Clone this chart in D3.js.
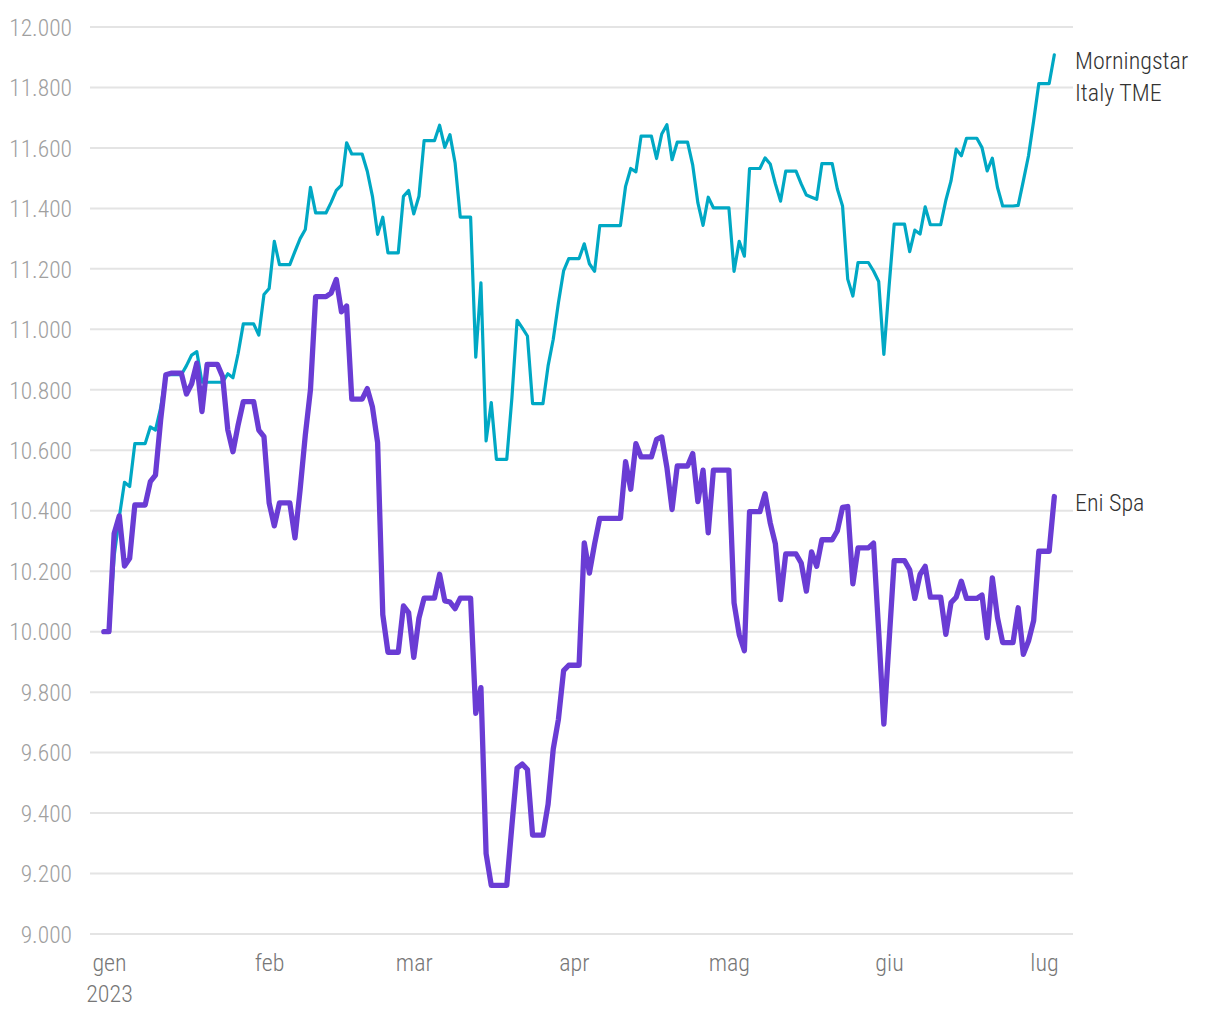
<!DOCTYPE html>
<html>
<head>
<meta charset="utf-8">
<script src="https://cdn.jsdelivr.net/npm/d3@7"></script>
<style>
  html, body { margin: 0; padding: 0; background: #fff; }
  svg text { font-family: "Liberation Sans Narrow", "Roboto Condensed", "DejaVu Sans Condensed", sans-serif; }
</style>
</head>
<body>
<svg id="chart" width="1220" height="1020"></svg>
<script>
// ---------- DATA ----------
const startDate = "2022-12-31";        // series start (base value)
const endDate = "2023-07-03";
const baseValue = 10000;

// One value per weekday (Mon–Fri) from 2023-01-02 to 2023-07-03.
// Market holidays repeat the previous close; weekends carry the last close.
const morningstarItalyTME = [
  10250, 10380, 10494, 10480, 10622,
  10677, 10667, 10740, 10850, 10850,
  10880, 10915, 10926, 10825, 10825,
  10825, 10853, 10840, 10920, 11018,
  10981, 11115, 11135, 11291, 11214,
  11258, 11300, 11330, 11470, 11385,
  11420, 11460, 11477, 11617, 11580,
  11523, 11440, 11314, 11371, 11253,
  11440, 11459, 11382, 11440, 11624,
  11675, 11602, 11644, 11550, 11371,
  10908, 11154, 10631, 10758, 10570,
  10774, 11030, 11005, 10978, 10754,
  10879, 10967, 11088, 11193, 11234,
  11283, 11217, 11192, 11343, 11343,
  11343, 11473, 11532, 11521, 11639,
  11565, 11646, 11677, 11561, 11619,
  11543, 11418, 11344, 11437, 11402,
  11402, 11192, 11291, 11242, 11532,
  11567, 11547, 11481, 11424, 11523,
  11481, 11444, 11437, 11430, 11548,
  11464, 11408, 11166, 11110, 11221,
  11193, 11158, 10917, 11140, 11348,
  11257, 11328, 11315, 11405, 11346,
  11427, 11491, 11596, 11574, 11632,
  11601, 11524, 11566, 11469, 11408,
  11410, 11491, 11574, 11690, 11813,
  11908
];

const eniSpa = [
  10325, 10383, 10217, 10243, 10419,
  10496, 10518, 10700, 10850, 10855,
  10786, 10820, 10888, 10728, 10884,
  10843, 10667, 10595, 10684, 10761,
  10667, 10645, 10426, 10350, 10426,
  10310, 10470, 10650, 10800, 11108,
  11120, 11165, 11058, 11077, 10769,
  10804, 10743, 10625, 10056, 9932,
  10085, 10063, 9915, 10045, 10111,
  10190, 10102, 10098, 10076, 10111,
  9730, 9815, 9266, 9161, 9161,
  9360, 9549, 9562, 9544, 9327,
  9429, 9612, 9710, 9871, 9889,
  10294, 10194, 10290, 10375, 10375,
  10375, 10562, 10471, 10622, 10578,
  10636, 10644, 10543, 10404, 10548,
  10589, 10430, 10534, 10327, 10534,
  10534, 10095, 9990, 9937, 10397,
  10456, 10360, 10290, 10106, 10257,
  10227, 10134, 10264, 10216, 10304,
  10334, 10411, 10414, 10158, 10277,
  10293, 10000, 9694, 9965, 10235,
  10205, 10110, 10189, 10216, 10114,
  9991, 10096, 10114, 10167, 10110,
  10121, 9980, 10178, 10046, 9964,
  10079, 9925, 9969, 10037, 10266,
  10447
];

const seriesNames = ["Morningstar\nItaly TME", "Eni Spa"];
const monthTickDates = ["2023-01-01","2023-02-01","2023-03-01","2023-04-01","2023-05-01","2023-06-01","2023-07-01"];
const monthTickLabels = ["gen", "feb", "mar", "apr", "mag", "giu", "lug"];
const yearLabel = "2023";
const yTicks = [9000, 9200, 9400, 9600, 9800, 10000, 10200, 10400, 10600, 10800, 11000, 11200, 11400, 11600, 11800, 12000];

// ---------- BUILD DAILY SERIES ----------
const parse = d3.utcParse("%Y-%m-%d");
const days = d3.utcDay.range(parse(startDate), d3.utcDay.offset(parse(endDate), 1));
const weekdays = days.filter(d => d.getUTCDay() !== 0 && d.getUTCDay() !== 6 && d >= parse("2023-01-02"));

function toDaily(values) {
  const byDay = new Map(weekdays.map((d, i) => [+d, values[i]]));
  let last = baseValue;
  return days.map(d => {
    if (byDay.has(+d)) last = byDay.get(+d);
    return { date: d, value: last };
  });
}
const dataTME = toDaily(morningstarItalyTME);
const dataEni = toDaily(eniSpa);

// ---------- CHART ----------
const svg = d3.select("#chart");
const gridX0 = 90, gridX1 = 1073;

const x = d3.scaleUtc()
  .domain([parse("2023-01-01"), parse("2023-07-01")])
  .range([109, 1044]);
const y = d3.scaleLinear().domain([9000, 12000]).range([934, 27]);

const locale = d3.formatLocale({ decimal: ",", thousands: ".", grouping: [3], currency: ["€", ""] });
const fmt = locale.format(",d");

// gridlines
svg.append("g").selectAll("line").data(yTicks).join("line")
  .attr("x1", gridX0).attr("x2", gridX1)
  .attr("y1", d => y(d)).attr("y2", d => y(d))
  .attr("stroke", "#e4e4e4").attr("stroke-width", 2);

// y labels
const yAxis = d3.axisLeft(y).tickValues(yTicks).tickFormat(fmt).tickSize(0).tickPadding(0);
const gy = svg.append("g").attr("transform", `translate(72,0)`).call(yAxis);
gy.select(".domain").remove();
gy.selectAll("text")
  .attr("fill", "#a0a0a0")
  .attr("font-size", 23.5)
  .attr("font-weight", 300)
  .attr("dy", "0.35em")
  .attr("x", 0);

// x axis labels
const xAxis = d3.axisBottom(x)
  .tickValues(monthTickDates.map(parse))
  .tickFormat((d, i) => monthTickLabels[i])
  .tickSize(0).tickPadding(0);
const gx = svg.append("g").attr("transform", `translate(0,934)`).call(xAxis);
gx.select(".domain").remove();
gx.selectAll("text")
  .attr("fill", "#777777")
  .attr("font-size", 24)
  .attr("font-weight", 300)
  .attr("dy", null)
  .attr("y", 37);
gx.select(".tick text").clone()
  .text(yearLabel)
  .attr("y", 68);

// lines
const line = d3.line().x(d => x(d.date)).y(d => y(d.value)).curve(d3.curveLinear);

svg.append("path").datum(dataTME)
  .attr("d", line)
  .attr("fill", "none")
  .attr("stroke", "#00a8c4")
  .attr("stroke-width", 3.2)
  .attr("stroke-linejoin", "round")
  .attr("stroke-linecap", "round");

svg.append("path").datum(dataEni)
  .attr("d", line)
  .attr("fill", "none")
  .attr("stroke", "#6a3cd4")
  .attr("stroke-width", 5.3)
  .attr("stroke-linejoin", "round")
  .attr("stroke-linecap", "round");

// series labels
const labels = [
  { name: seriesNames[0], y0: 61 },
  { name: seriesNames[1], y0: 503 }
];
labels.forEach(l => {
  const t = svg.append("text")
    .attr("x", 1075)
    .attr("y", l.y0)
    .attr("fill", "#333333")
    .attr("font-size", 24)
    .attr("font-weight", 300);
  l.name.split("\n").forEach((s, i) => {
    t.append("tspan").attr("x", 1075).attr("dy", i === 0 ? "0.35em" : 31.5).text(s);
  });
});
</script>
</body>
</html>
